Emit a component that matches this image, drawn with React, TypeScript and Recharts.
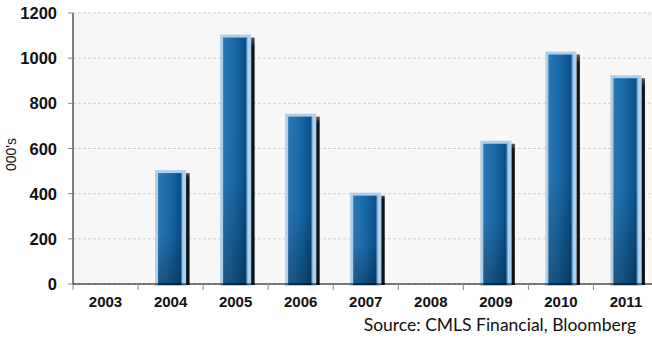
import React from "react";
import { BarChart, Bar, XAxis, YAxis, CartesianGrid } from "recharts";

const years = ["2003", "2004", "2005", "2006", "2007", "2008", "2009", "2010", "2011"];
const volumes = [0, 500, 1100, 750, 400, 0, 630, 1025, 920];
const yTicks = [0, 200, 400, 600, 800, 1000, 1200];
const yLabel = "000's";
const sourceText = "Source: CMLS Financial, Bloomberg";

const data = years.map((y, i) => ({ year: y, value: volumes[i] }));

const CHART_W = 660;
const CHART_H = 341;
const MARGIN = { top: 13, right: 1.5, bottom: 27, left: 0 };
const Y_AXIS_W = 73;
const PLOT_W = CHART_W - MARGIN.left - MARGIN.right - Y_AXIS_W;
const BAND = PLOT_W / years.length;

const BarShape = (props: any) => {
  const { x, y, width, height, value } = props;
  const v = Array.isArray(value) ? value[1] - value[0] : value;
  if (!v || height <= 0) return null;
  const bottom = y + height;
  return (
    <g>
      <rect x={x + width} y={y + 2} width={3.5} height={bottom - y - 1} fill="url(#shadowGrad)" />
      <rect x={x} y={y - 1} width={width} height={height + 3} fill="#acd0ef" />
      <rect x={x + 3} y={y + 2} width={width - 7} height={height - 1} fill="url(#barGradH)" />
      <rect x={x + 3} y={y + 2} width={width - 7} height={height - 1} fill="url(#barGradV)" />
      <rect x={x + width - 5} y={y + 2} width={1.5} height={height - 1} fill="#7fb0dc" opacity={0.6} />
    </g>
  );
};

const XTick = (props: any) => {
  const { x, y, payload } = props;
  const bx = x - BAND / 2;
  return (
    <g>
      <line x1={bx} y1={y - 6} x2={bx} y2={y} stroke="#888" strokeWidth={1} />
      <text
        x={x}
        y={y + 17}
        textAnchor="middle"
        fontFamily="'Liberation Sans', Arial, sans-serif"
        fontWeight="bold"
        fontSize={15}
        fill="#111"
      >
        {payload.value}
      </text>
    </g>
  );
};

const YTick = (props: any) => {
  const { x, y, payload } = props;
  return (
    <text
      x={x}
      y={y}
      dy={6}
      textAnchor="end"
      fontFamily="'Liberation Sans', Arial, sans-serif"
      fontWeight="bold"
      fontSize={16.5}
      fill="#111"
    >
      {payload.value}
    </text>
  );
};

export default function App() {
  return (
    <div style={{ position: "absolute", left: 0, top: 0, width: 652, height: 341, overflow: "hidden", background: "#fff" }}>
      <BarChart width={CHART_W} height={CHART_H} data={data} margin={MARGIN} barSize={31}>
        <defs>
          <linearGradient id="barGradH" x1="0" y1="0" x2="1" y2="0">
            <stop offset="0%" stopColor="#2878b6" />
            <stop offset="45%" stopColor="#1b6aa8" />
            <stop offset="100%" stopColor="#0a4c82" />
          </linearGradient>
          <linearGradient id="barGradV" x1="0" y1="0" x2="0" y2="1">
            <stop offset="0%" stopColor="#000" stopOpacity={0} />
            <stop offset="55%" stopColor="#000" stopOpacity={0.02} />
            <stop offset="100%" stopColor="#000" stopOpacity={0.28} />
          </linearGradient>
          <linearGradient id="shadowGrad" x1="0" y1="0" x2="0" y2="1">
            <stop offset="0%" stopColor="#555" />
            <stop offset="4%" stopColor="#141414" />
            <stop offset="100%" stopColor="#111" />
          </linearGradient>
        </defs>
        <CartesianGrid vertical={false} stroke="#cfcfcf" strokeDasharray="3 2" fill="#f7f7f7" />
        <XAxis
          dataKey="year"
          height={30}
          axisLine={{ stroke: "#000", strokeWidth: 1 }}
          tickLine={false}
          tickSize={6}
          tickMargin={0}
          tick={<XTick />}
          interval={0}
        />
        <YAxis
          width={Y_AXIS_W}
          domain={[0, 1200]}
          ticks={yTicks}
          axisLine={{ stroke: "#000", strokeWidth: 1 }}
          tickLine={{ stroke: "#888" }}
          tickSize={5}
          tickMargin={11}
          tick={<YTick />}
          label={{
            value: yLabel,
            angle: -90,
            position: "insideLeft",
            dx: 6,
            dy: 6,
            style: { fontFamily: "'Liberation Sans', Arial, sans-serif", fontSize: 14, fill: "#111", textAnchor: "middle" },
          }}
        />
        <Bar dataKey="value" shape={<BarShape />} isAnimationActive={false} />
      </BarChart>
      <div
        style={{
          position: "absolute",
          right: 16,
          top: 314,
          fontFamily: "Lato, 'Open Sans', sans-serif",
          fontSize: 17.5,
          color: "#111",
          whiteSpace: "nowrap",
          lineHeight: "22px",
        }}
      >
        {sourceText}
      </div>
    </div>
  );
}
